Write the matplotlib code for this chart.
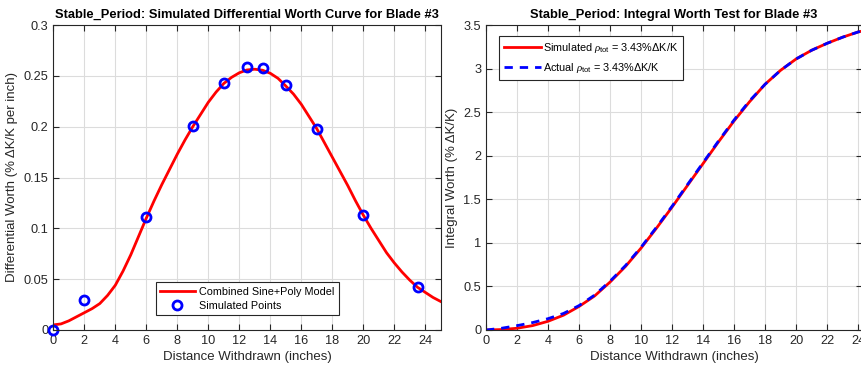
import matplotlib.pyplot as plt

plt.rcParams['font.family'] = ['Liberation Sans', 'DejaVu Sans']
plt.rcParams['mathtext.fontset'] = 'custom'
plt.rcParams['mathtext.it'] = 'Liberation Serif:italic'
plt.rcParams['mathtext.rm'] = 'Liberation Sans'

# differential worth model curve (read every half inch)
model_x = [0, 0.5, 1, 1.5, 2, 2.5, 3, 3.5, 4, 4.5, 5, 5.5, 6, 6.5, 7, 7.5, 8, 8.5, 9, 9.5, 10, 10.5,
           11, 11.5, 12, 12.5, 13, 13.5, 14, 14.5, 15, 15.5, 16, 16.5, 17, 17.5, 18, 18.5, 19, 19.5,
           20, 20.5, 21, 21.5, 22, 22.5, 23, 23.5, 24, 24.5, 25]
model_y = [0.005, 0.006, 0.009, 0.013, 0.017, 0.021, 0.026, 0.034, 0.044, 0.058, 0.074, 0.092, 0.110,
           0.127, 0.143, 0.158, 0.173, 0.187, 0.200, 0.212, 0.224, 0.234, 0.2425, 0.2485, 0.253, 0.2558,
           0.2565, 0.2555, 0.2525, 0.2475, 0.240, 0.232, 0.222, 0.210, 0.198, 0.184, 0.170, 0.156, 0.142,
           0.127, 0.113, 0.100, 0.088, 0.076, 0.066, 0.057, 0.049, 0.042, 0.037, 0.032, 0.028]

# simulated points
pts_x = [0, 2, 6, 9, 11, 12.5, 13.5, 15, 17, 20, 23.5]
pts_y = [0.0, 0.030, 0.111, 0.201, 0.243, 0.259, 0.258, 0.241, 0.198, 0.113, 0.042]

# integral worth
int_x = [0, 1, 2, 3, 4, 5, 6, 7, 8, 9, 10, 11, 12, 13, 14, 15, 16, 17, 18, 19, 20, 21, 22, 23, 24, 24.25]
sim_int = [0, 0.005, 0.02, 0.05, 0.10, 0.17, 0.27, 0.39, 0.55, 0.73, 0.94, 1.17, 1.41, 1.66, 1.91,
           2.16, 2.40, 2.62, 2.82, 2.98, 3.11, 3.21, 3.29, 3.36, 3.42, 3.43]
act_int = [0, 0.02, 0.05, 0.085, 0.13, 0.19, 0.28, 0.40, 0.56, 0.74, 0.95, 1.18, 1.42, 1.67, 1.92,
           2.17, 2.41, 2.63, 2.82, 2.98, 3.11, 3.21, 3.29, 3.36, 3.42, 3.43]

txt = '#262626'
fig = plt.figure(figsize=(8.61, 3.70), dpi=100)
ax1 = fig.add_axes([53.3/861, 40/370, 387.5/861, 305/370])
ax2 = fig.add_axes([486/861, 40/370, 376/861, 305/370])

def style(ax):
    ax.grid(True, color='#dcdcdc', linewidth=0.8)
    ax.set_axisbelow(True)
    ax.tick_params(direction='in', top=True, right=True, colors=txt, labelsize=9.2, length=4)
    for s in ax.spines.values():
        s.set_color(txt)
        s.set_linewidth(0.8)

ax1.plot(model_x, model_y, color='red', lw=2, label='Combined Sine+Poly Model')
ax1.plot(pts_x, pts_y, 'o', mfc='none', mec='blue', mew=2, ms=6.5, label='Simulated Points', clip_on=False)
ax1.set_xlim(0, 25)
ax1.set_ylim(0, 0.3)
ax1.set_xticks(range(0, 25, 2))
ax1.set_yticks([0, 0.05, 0.1, 0.15, 0.2, 0.25, 0.3])
ax1.set_yticklabels(['0', '0.05', '0.1', '0.15', '0.2', '0.25', '0.3'])
ax1.set_xlabel('Distance Withdrawn (inches)', fontsize=9.5, color=txt, labelpad=3)
ax1.set_ylabel('Differential Worth (% ΔK/K per inch)', fontsize=9.5, color=txt, labelpad=4)
ax1.set_title('Stable_Period: Simulated Differential Worth Curve for Blade #3', fontsize=9.3,
              fontweight='bold', pad=5)
style(ax1)
leg = ax1.legend(loc='lower center', bbox_to_anchor=(0.5, 0.03), fontsize=7.8, fancybox=False,
                 edgecolor=txt, framealpha=1, handlelength=3.2, borderpad=0.4, labelspacing=0.4,
                 handletextpad=0.4)
leg.get_frame().set_linewidth(0.8)

ax2.plot(int_x, sim_int, color='red', lw=2, label='Simulated $\\rho_{\\rm tot}$ = 3.43%ΔK/K')
ax2.plot(int_x, act_int, color='blue', lw=2, ls=(0, (3, 2.5)), label='Actual $\\rho_{\\rm tot}$ = 3.43%ΔK/K')
ax2.set_xlim(0, 24.25)
ax2.set_ylim(0, 3.5)
ax2.set_xticks(range(0, 25, 2))
ax2.set_yticks([0, 0.5, 1, 1.5, 2, 2.5, 3, 3.5])
ax2.set_yticklabels(['0', '0.5', '1', '1.5', '2', '2.5', '3', '3.5'])
ax2.set_xlabel('Distance Withdrawn (inches)', fontsize=9.5, color=txt, labelpad=3)
ax2.set_ylabel('Integral Worth (% ΔK/K)', fontsize=9.5, color=txt, labelpad=4)
ax2.set_title('Stable_Period: Integral Worth Test for Blade #3', fontsize=9.3, fontweight='bold', pad=5)
style(ax2)
leg2 = ax2.legend(loc='upper left', bbox_to_anchor=(0.02, 0.982), fontsize=7.8, fancybox=False,
                  edgecolor=txt, framealpha=1, handlelength=3.4, borderpad=0.45, labelspacing=0.55,
                  handletextpad=0.25)
leg2.get_frame().set_linewidth(0.8)

plt.savefig('out.png', dpi=100)
